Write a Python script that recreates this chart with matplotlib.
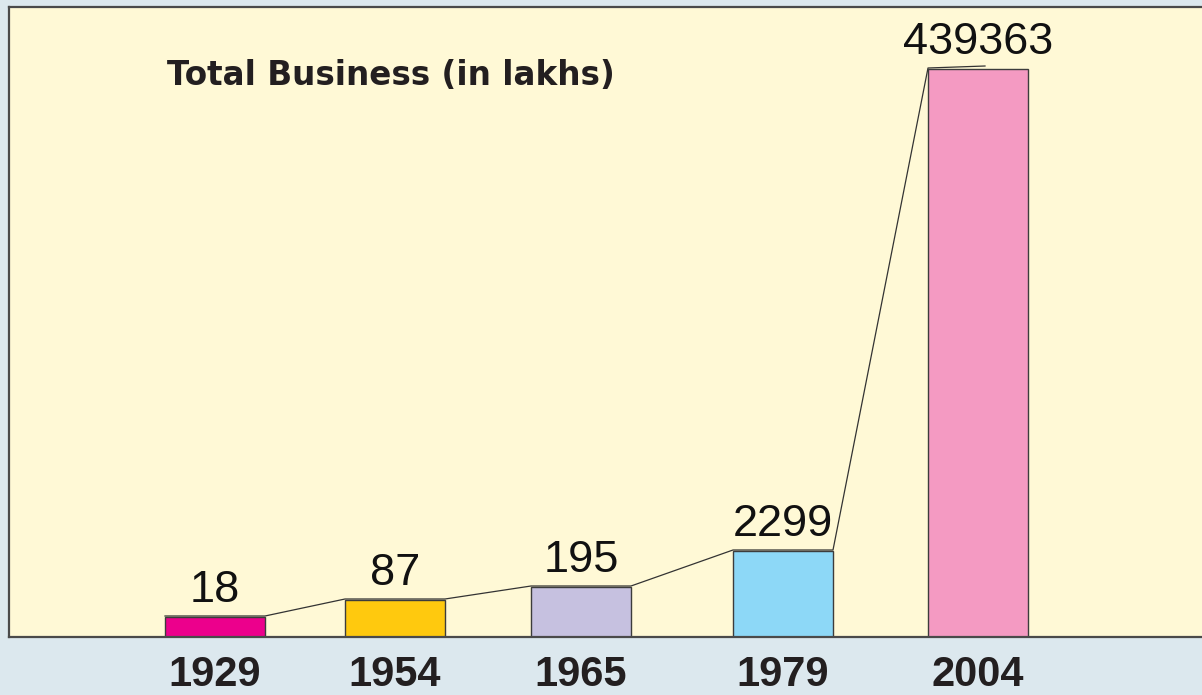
import matplotlib.pyplot as plt

# data
years = ['1929', '1954', '1965', '1979', '2004']
values = [18, 87, 195, 2299, 439363]
# bar heights as drawn (not to scale in the original, picture units)
bar_heights = [20, 37, 50, 86, 568]
colors = ['#EC008C', '#FFC90E', '#C6C1E0', '#8DD8F7', '#F49AC2']

# layout
x_pos = [215, 395, 581, 783, 978]
bar_w = 100

fig = plt.figure(figsize=(12.02, 6.95), dpi=100)
fig.patch.set_facecolor('#DCE8EE')
ax = fig.add_axes([9 / 1202, 58 / 695, 1193 / 1202, 630 / 695])
ax.set_facecolor('#FFF9D6')
ax.set_xlim(9, 1202)
ax.set_ylim(0, 630)

ax.bar(x_pos, bar_heights, width=bar_w, color=colors, edgecolor='#3C3C3C', linewidth=1.0, zorder=2)

# connecting line across the bar tops
lx, ly = [], []
for i, (x, h) in enumerate(zip(x_pos, bar_heights)):
    lx.append(x - bar_w / 2)
    ly.append(h + 1)
    lx.append(x + bar_w / 2 if i < len(x_pos) - 1 else x + 7)
    ly.append(h + 1 if i < len(x_pos) - 1 else h + 3)
ax.plot(lx, ly, color='#333333', lw=0.9, zorder=3)

for x, h, v in zip(x_pos, bar_heights, values):
    ax.text(x, h + 15, str(v), ha='center', va='baseline', fontsize=32.5,
            family='Liberation Sans', color='#111111', zorder=4)

ax.text(167, 552, 'Total Business (in lakhs)', ha='left', va='baseline', fontsize=23.5,
        family='DejaVu Sans', fontweight='heavy', color='#231F20')

ax.set_xticks(x_pos)
ax.set_xticklabels(years, fontsize=30, fontweight='bold', family='Liberation Sans', color='#231F20')
ax.tick_params(axis='x', length=0, pad=13)
ax.set_yticks([])

for s in ['left', 'top', 'bottom']:
    ax.spines[s].set_color('#4A4A4A')
    ax.spines[s].set_linewidth(1.6)
ax.spines['right'].set_visible(False)

fig.savefig('out.png', dpi=100, facecolor=fig.get_facecolor())
